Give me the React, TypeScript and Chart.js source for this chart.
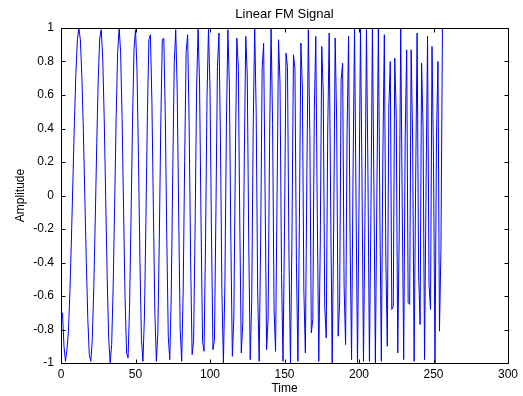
import { useEffect, useRef } from "react";
import { Chart, registerables } from "chart.js";

Chart.register(...registerables);

const chartTitle = "Linear FM Signal";
const xAxisLabel = "Time";
const yAxisLabel = "Amplitude";

const xTickValues = [0, 50, 100, 150, 200, 250, 300];
const yTickValues = [-1, -0.8, -0.6, -0.4, -0.2, 0, 0.2, 0.4, 0.6, 0.8, 1];

// Sampled chirp, one value per time step (t = 1 .. 256)
const amplitude = [
  -0.70, -0.90, -0.99, -0.92, -0.81, -0.57, -0.26, 0.09, 0.44, 0.73, 0.93, 1.00, 0.93, 0.71, 0.39, -0.01,
  -0.40, -0.74, -0.95, -0.99, -0.86, -0.55, -0.14, 0.31, 0.70, 0.94, 0.99, 0.82, 0.46, -0.02, -0.49, -0.85,
  -1.00, -0.89, -0.55, -0.06, 0.46, 0.85, 1.00, 0.86, 0.46, -0.09, -0.61, -0.94, -0.97, -0.67, -0.14, 0.44,
  0.87, 0.99, 0.75, 0.22, -0.40, -0.86, -0.99, -0.72, -0.15, 0.49, 0.93, 0.96, 0.57, -0.08, -0.70, -0.99,
  -0.82, -0.25, 0.45, 0.93, 0.94, 0.47, -0.25, -0.84, -0.98, -0.59, 0.14, 0.79, 0.99, 0.62, -0.13, -0.80,
  -0.99, -0.57, 0.21, 0.86, 0.96, 0.43, -0.39, -0.95, -0.87, -0.19, 0.63, 1.00, 0.66, -0.17, -0.87, -0.93,
  -0.28, 0.59, 1.00, 0.63, -0.24, -0.92, -0.86, -0.08, 0.77, 0.97, 0.34, -0.58, -1.00, -0.53, 0.41, 0.99,
  0.66, -0.28, -0.96, -0.73, 0.20, 0.94, 0.77, -0.17, -0.94, -0.76, 0.20, 0.95, 0.72, -0.28, -0.98, -0.63,
  0.41, 1.00, 0.49, -0.57, -0.99, -0.27, 0.76, 0.91, -0.01, -0.92, -0.73, 0.34, 1.00, 0.43, -0.68, -0.93,
  -0.01, 0.93, 0.67, -0.46, -0.99, -0.21, 0.85, 0.77, -0.36, -1.00, -0.26, 0.84, 0.76, -0.40, -0.99, -0.16,
  0.91, 0.64, -0.57, -0.94, 0.11, 0.99, 0.37, -0.82, -0.74, 0.50, 0.95, -0.10, -0.99, -0.29, 0.89, 0.62,
  -0.66, -0.85, 0.38, 0.97, -0.08, -1.00, -0.20, 0.94, 0.45, -0.84, -0.64, 0.69, 0.79, -0.54, -0.89, 0.38,
  0.95, -0.24, -0.98, 0.12, 1.00, -0.02, -1.00, -0.05, 1.00, 0.11, -0.99, -0.13, 0.99, 0.13, -0.99, -0.11,
  1.00, 0.06, -1.00, 0.01, 1.00, -0.11, -0.99, 0.23, 0.96, -0.37, -0.90, 0.52, 0.80, -0.68, -0.66, 0.82,
  0.47, -0.94, -0.22, 1.00, -0.05, -0.98, 0.35, 0.87, -0.64, -0.65, 0.87, 0.33, -0.99, 0.06, 0.97, -0.46,
  -0.77, 0.79, 0.41, -0.98, 0.05, 0.95, -0.53, -0.68, 0.89, 0.21, -1.00, 0.35, 0.80, -0.81, -0.32, 1.00,
];

const FONT_FAMILY = "'Liberation Sans', Arial, Helvetica, sans-serif";
const TICK_LEN = 4;

// Box around the plot area with inward tick marks on every side,
// plus the title centred over the plot area
const framePlugin = {
  id: "axesFrame",
  afterDraw(chart: any) {
    const { ctx, chartArea, scales } = chart;
    const left = Math.round(chartArea.left) + 0.5;
    const right = Math.round(chartArea.right) + 0.5;
    const top = Math.round(chartArea.top) + 0.5;
    const bottom = Math.round(chartArea.bottom) + 0.5;
    ctx.save();
    ctx.strokeStyle = "#000";
    ctx.lineWidth = 1;
    ctx.beginPath();
    ctx.rect(left, top, right - left, bottom - top);
    for (const v of xTickValues) {
      const x = Math.round(scales.x.getPixelForValue(v)) + 0.5;
      ctx.moveTo(x, bottom);
      ctx.lineTo(x, bottom - TICK_LEN);
      ctx.moveTo(x, top);
      ctx.lineTo(x, top + TICK_LEN);
    }
    for (const v of yTickValues) {
      const y = Math.round(scales.y.getPixelForValue(v)) + 0.5;
      ctx.moveTo(left, y);
      ctx.lineTo(left + TICK_LEN, y);
      ctx.moveTo(right, y);
      ctx.lineTo(right - TICK_LEN, y);
    }
    ctx.stroke();

    ctx.fillStyle = "#000";
    ctx.font = `13px ${FONT_FAMILY}`;
    ctx.textAlign = "center";
    ctx.textBaseline = "middle";
    ctx.fillText(chartTitle, (chartArea.left + chartArea.right) / 2, chartArea.top - 13.5);
    ctx.restore();
  },
};

export default function App() {
  const canvasRef = useRef<HTMLCanvasElement>(null);

  useEffect(() => {
    const canvas = canvasRef.current;
    if (!canvas) return;
    const tickFont = { family: FONT_FAMILY, size: 12 };
    const chart = new Chart(canvas, {
      type: "line",
      data: {
        datasets: [
          {
            data: amplitude.map((v, i) => ({ x: i + 1, y: v })),
            borderColor: "#0000ff",
            borderWidth: 1,
            pointRadius: 0,
            fill: false,
            tension: 0,
          },
        ],
      },
      options: {
        responsive: false,
        animation: false,
        devicePixelRatio: 1,
        layout: { padding: { left: 0, right: 15, top: 28, bottom: 0 } },
        plugins: {
          legend: { display: false },
          tooltip: { enabled: false },
          title: { display: false },
        },
        scales: {
          x: {
            type: "linear",
            min: 0,
            max: 300,
            grid: { display: false, drawTicks: false },
            border: { display: false },
            afterBuildTicks: (s: any) => {
              s.ticks = xTickValues.map((value) => ({ value }));
            },
            afterFit: (s: any) => {
              s.height = 33;
            },
            ticks: {
              color: "#000",
              font: tickFont,
              padding: 4,
              autoSkip: false,
              maxRotation: 0,
              callback: (v: any) => String(v),
            },
            title: {
              display: true,
              text: xAxisLabel,
              color: "#000",
              font: tickFont,
              padding: { top: 0, bottom: 0 },
            },
          },
          y: {
            type: "linear",
            min: -1,
            max: 1,
            grid: { display: false, drawTicks: false },
            border: { display: false },
            afterBuildTicks: (s: any) => {
              s.ticks = yTickValues.map((value) => ({ value }));
            },
            afterFit: (s: any) => {
              s.width = 61;
            },
            ticks: {
              color: "#000",
              font: tickFont,
              padding: 7,
              autoSkip: false,
              callback: (v: any) => String(v),
            },
            title: {
              display: true,
              text: yAxisLabel,
              color: "#000",
              font: tickFont,
              padding: { top: 13, bottom: 0 },
            },
          },
        },
      },
      plugins: [framePlugin],
    } as any);
    return () => chart.destroy();
  }, []);

  return (
    <canvas
      ref={canvasRef}
      width={523}
      height={396}
      style={{ position: "fixed", left: 0, top: 0, width: 523, height: 396, background: "#fff" }}
    />
  );
}
